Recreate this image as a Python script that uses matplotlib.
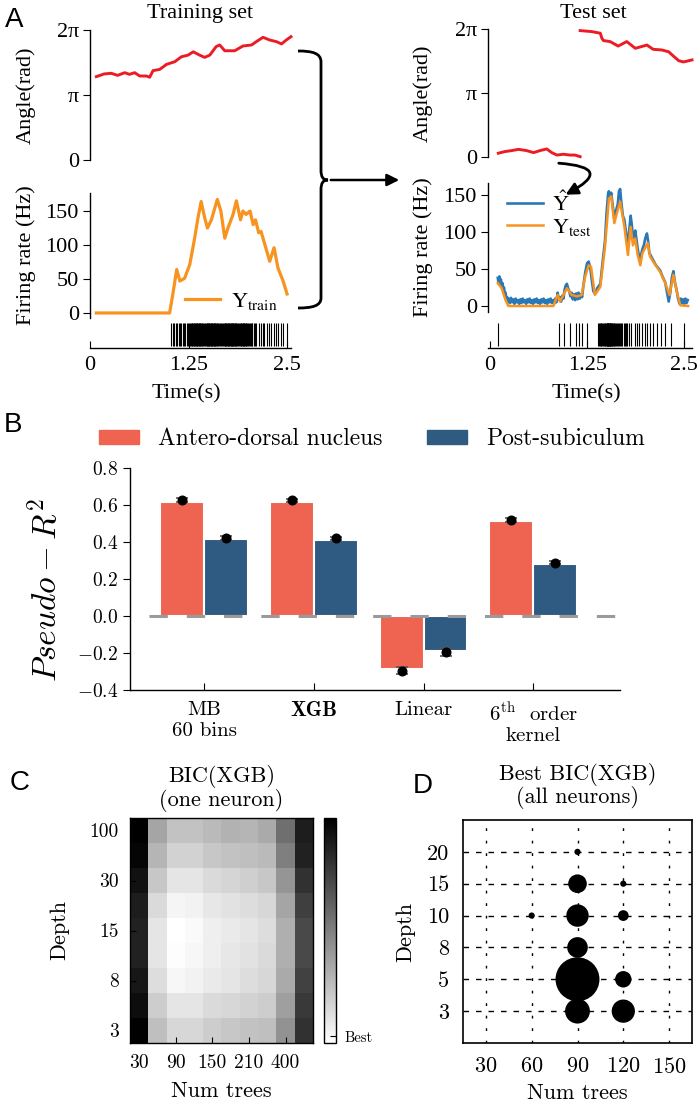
import matplotlib
matplotlib.use("Agg")
import matplotlib.pyplot as plt
import numpy as np
from matplotlib.patches import Patch, FancyArrowPatch, PathPatch
from matplotlib.path import Path
from matplotlib.font_manager import FontProperties

# ---------------- data ----------------
# A: training set
train_ang_t = [0.08, 0.18, 0.27, 0.35, 0.44, 0.50, 0.567, 0.63, 0.715, 0.757, 0.80, 0.885, 0.97,
               1.075, 1.16, 1.245, 1.31, 1.39, 1.455, 1.52, 1.60, 1.645, 1.71, 1.836, 1.94, 2.05,
               2.11, 2.195, 2.28, 2.365, 2.43, 2.49, 2.55]
train_ang = [4.03, 4.16, 4.19, 4.09, 4.22, 4.14, 4.22, 4.06, 4.06, 4.00, 4.32, 4.38, 4.62,
             4.75, 4.99, 5.07, 5.23, 5.07, 4.96, 5.07, 5.48, 5.56, 5.28, 5.28, 5.51, 5.56,
             5.72, 5.93, 5.80, 5.72, 5.61, 5.80, 5.96]
train_fr_t = [0.08, 1.01, 1.05, 1.10, 1.14, 1.20, 1.265, 1.32, 1.37, 1.41, 1.455, 1.49, 1.54,
              1.615, 1.66, 1.71, 1.75, 1.815, 1.857, 1.91, 1.94, 1.98, 2.03, 2.07, 2.10, 2.14,
              2.17, 2.22, 2.28, 2.335, 2.385, 2.45, 2.50]
train_fr = [0, 0, 27, 64, 47, 51, 71, 105, 140, 164, 140, 125, 137,
            167, 150, 110, 125, 145, 165, 137, 150, 145, 150, 130, 137, 118,
            120, 100, 76, 96, 66, 47, 28]
train_spikes = [1.03, 1.05, 1.07, 1.09, 1.11, 1.125, 1.14, 1.16, 1.175, 1.19, 1.21, 1.225, 1.24,
                1.255, 1.27, 1.285, 1.295, 1.30, 1.31, 1.318, 1.325, 1.333, 1.34, 1.348, 1.355,
                1.362, 1.37, 1.377, 1.385, 1.392, 1.40, 1.408, 1.415, 1.423, 1.43, 1.445, 1.46,
                1.47, 1.478, 1.485, 1.493, 1.50, 1.508, 1.515, 1.522, 1.53, 1.537, 1.545, 1.552,
                1.56, 1.567, 1.575, 1.582, 1.59, 1.597, 1.605, 1.612, 1.62, 1.635, 1.65, 1.665,
                1.68, 1.69, 1.70, 1.708, 1.715, 1.723, 1.73, 1.738, 1.745, 1.753, 1.76, 1.768,
                1.775, 1.783, 1.79, 1.798, 1.805, 1.813, 1.82, 1.828, 1.835, 1.843, 1.85, 1.858,
                1.865, 1.88, 1.895, 1.905, 1.913, 1.92, 1.928, 1.935, 1.943, 1.95, 1.958, 1.965,
                1.973, 1.98, 1.995, 2.01, 2.02, 2.03, 2.04, 2.05, 2.06, 2.075, 2.09, 2.11, 2.14,
                2.17, 2.195, 2.21, 2.24, 2.27, 2.30, 2.33, 2.36, 2.39, 2.42, 2.45, 2.50]

# A: test set
test_ang1_t = [0.107, 0.19, 0.28, 0.365, 0.47, 0.56, 0.644, 0.73, 0.795, 0.86, 0.945, 1.03, 1.095, 1.16]
test_ang1 = [0.20, 0.28, 0.33, 0.39, 0.33, 0.23, 0.33, 0.41, 0.23, 0.11, 0.15, 0.11, 0.11, 0.03]
test_ang2_t = [1.16, 1.31, 1.42, 1.44, 1.46, 1.546, 1.65, 1.76, 1.87, 2.02, 2.10, 2.21, 2.30,
               2.36, 2.43, 2.49, 2.60]
test_ang2 = [6.22, 6.17, 6.09, 5.84, 5.73, 5.68, 5.46, 5.68, 5.35, 5.51, 5.30, 5.27, 5.18,
             4.97, 4.74, 4.68, 4.78]
test_fr_t = [0.10, 0.15, 0.20, 0.236, 0.816, 0.87, 0.90, 0.99, 1.05, 1.12, 1.18, 1.225, 1.27,
             1.30, 1.35, 1.42, 1.48, 1.53, 1.56, 1.60, 1.645, 1.675, 1.73, 1.775, 1.81, 1.84,
             1.87, 1.90, 1.935, 1.96, 2.03, 2.06, 2.10, 2.19, 2.255, 2.31, 2.36, 2.405, 2.45, 2.55]
test_fr = [31, 24, 8, 0, 0, 15, 6, 24, 15, 13, 15, 40, 55,
           53, 15, 26, 80, 145, 148, 112, 130, 141, 107, 69, 107, 82,
           91, 69, 55, 71, 85, 67, 60, 46, 31, 15, 42, 19, 1, 0]
pred_t = [0.10, 0.11, 0.12, 0.13, 0.14, 0.15, 0.16, 0.17, 0.18, 0.19, 0.20, 0.21, 0.22, 0.23,
          0.24, 0.255, 0.27, 0.285, 0.30, 0.315, 0.33, 0.345, 0.36, 0.375, 0.39, 0.405, 0.42,
          0.435, 0.45, 0.465, 0.48, 0.495, 0.51, 0.525, 0.54, 0.555, 0.57, 0.585, 0.60, 0.615,
          0.63, 0.645, 0.66, 0.675, 0.69, 0.705, 0.72, 0.735, 0.75, 0.765, 0.78, 0.795, 0.81,
          0.825, 0.84, 0.855, 0.87, 0.885, 0.90, 0.915, 0.93, 0.945, 0.96, 0.975, 0.99, 1.005,
          1.02, 1.035, 1.05, 1.065, 1.08, 1.095, 1.11, 1.125, 1.14, 1.155, 1.17, 1.185, 1.20,
          1.225, 1.25, 1.27, 1.29, 1.31, 1.33, 1.35, 1.38, 1.42, 1.45, 1.48, 1.50, 1.52, 1.53,
          1.545, 1.56, 1.58, 1.60, 1.62, 1.645, 1.66, 1.675, 1.69, 1.71, 1.73, 1.75, 1.775,
          1.79, 1.81, 1.825, 1.84, 1.855, 1.87, 1.885, 1.90, 1.92, 1.935, 1.95, 1.965, 1.98,
          2.00, 2.02, 2.035, 2.05, 2.07, 2.10, 2.13, 2.16, 2.19, 2.22, 2.255, 2.28, 2.30, 2.32,
          2.34, 2.36, 2.38, 2.405, 2.42, 2.44, 2.455, 2.47, 2.485, 2.50, 2.515, 2.53, 2.545]
pred_hz = [38, 30, 40, 32, 36, 27, 31, 22, 25, 15, 18, 9, 12, 5,
           10, 4, 11, 5, 9, 3, 10, 5, 8, 3, 9, 4, 10,
           5, 8, 3, 9, 5, 10, 4, 8, 3, 9, 5, 10, 4,
           8, 3, 9, 5, 10, 4, 8, 3, 9, 5, 10, 4, 8,
           3, 10, 5, 18, 9, 12, 6, 14, 10, 22, 28, 30, 24,
           20, 13, 18, 9, 16, 8, 17, 9, 18, 10, 16, 12, 26,
           45, 58, 60, 52, 35, 20, 17, 24, 30, 60, 88, 125, 152, 155,
           146, 153, 135, 118, 128, 138, 155, 158, 140, 122, 116, 100, 80,
           100, 122, 110, 92, 96, 102, 90, 78, 66, 62, 72, 78, 82,
           92, 98, 88, 72, 68, 62, 56, 52, 48, 40, 32, 18, 6, 18,
           38, 47, 32, 20, 10, 3, 10, 4, 9, 3, 10, 4, 8]
test_spikes = [0.10, 0.893, 0.958, 1.03, 1.108, 1.15, 1.19, 1.245, 1.395, 1.405, 1.415, 1.425,
               1.435, 1.445, 1.455, 1.465, 1.475, 1.485, 1.495, 1.50, 1.505, 1.51, 1.515, 1.52,
               1.525, 1.53, 1.535, 1.54, 1.545, 1.55, 1.555, 1.56, 1.565, 1.57, 1.58, 1.59, 1.60,
               1.61, 1.62, 1.63, 1.645, 1.66, 1.675, 1.69, 1.705, 1.72, 1.735, 1.75, 1.765, 1.79,
               1.82, 1.86, 1.89, 1.92, 1.955, 1.99, 2.02, 2.06, 2.10, 2.15, 2.20, 2.255, 2.33, 2.50]

# B: pseudo-R2 per model
models = ["MB\n60 bins", "XGB", "Linear", "$6^{\\mathrm{th}}$  order\nkernel"]
ad_bar = [0.617, 0.617, -0.288, 0.512]
ps_bar = [0.415, 0.41, -0.187, 0.282]
ad_mean = [0.627, 0.625, -0.296, 0.52]
ps_mean = [0.421, 0.419, -0.195, 0.288]
ad_err = [0.009, 0.008, 0.02, 0.01]
ps_err = [0.009, 0.008, 0.02, 0.008]

# C: BIC heatmap (darkness, 0 = best), rows depth 100 -> 3, columns num trees
bic = [
    [0.97, 0.35, 0.24, 0.24, 0.27, 0.30, 0.29, 0.33, 0.55, 0.86],
    [0.95, 0.29, 0.18, 0.18, 0.22, 0.24, 0.25, 0.27, 0.49, 0.84],
    [0.90, 0.22, 0.11, 0.11, 0.15, 0.17, 0.19, 0.22, 0.41, 0.78],
    [0.86, 0.15, 0.05, 0.06, 0.10, 0.12, 0.14, 0.16, 0.35, 0.73],
    [0.84, 0.11, 0.01, 0.03, 0.07, 0.09, 0.11, 0.14, 0.31, 0.69],
    [0.84, 0.11, 0.02, 0.04, 0.07, 0.10, 0.12, 0.15, 0.31, 0.69],
    [0.88, 0.14, 0.04, 0.06, 0.09, 0.11, 0.14, 0.16, 0.33, 0.72],
    [0.92, 0.20, 0.11, 0.11, 0.15, 0.16, 0.18, 0.20, 0.37, 0.75],
    [0.96, 0.25, 0.16, 0.16, 0.20, 0.22, 0.24, 0.25, 0.42, 0.78],
]
c_xticklabels = ["30", "90", "150", "210", "400"]
c_yticklabels = ["100", "30", "15", "8", "3"]

# D: best BIC over all neurons
d_depth_levels = [3, 5, 8, 10, 15, 20]
d_tree_ticks = [30, 60, 90, 120, 150]
d_trees = [90, 90, 120, 60, 90, 120, 90, 90, 120, 90, 120]
d_depth = [20, 15, 15, 10, 10, 10, 8, 5, 5, 3, 3]
d_count = [1, 9, 1, 1, 13, 3, 11, 50, 7, 16, 14]

# ---------------- style ----------------
plt.rcParams["font.family"] = "cmr10"
plt.rcParams["mathtext.fontset"] = "cm"
plt.rcParams["axes.formatter.use_mathtext"] = True
plt.rcParams["axes.linewidth"] = 1.0

TIMES = "Liberation Serif"
SANS = "Liberation Sans"
RED = "#ec1c24"
ORANGE = "#f7931e"
BLUE = "#2a78b5"
RED_B = "#ee6450"
BLUE_B = "#2f5a82"

W, H = 700, 1102
fig = plt.figure(figsize=(7, 11.02), dpi=100)


def box(x0, y0, x1, y1):
    # pixel box (origin top-left) -> figure rect
    return [x0 / W, 1 - y1 / H, (x1 - x0) / W, (y1 - y0) / H]


def only_left(ax):
    for s in ["top", "right", "bottom"]:
        ax.spines[s].set_visible(False)
    ax.set_xticks([])
    ax.patch.set_alpha(0)


tfont = dict(fontfamily=TIMES, fontsize=16)
leg_prop = FontProperties(family=TIMES, size=16, math_fontfamily="stix")

# ---------------- panel A ----------------
for side in ["train", "test"]:
    if side == "train":
        x0, x1, xlim = 90, 291, (0, 2.55)
        ang_box, fr_box, ras_box = (30, 160), (193, 318), (322, 348)
    else:
        x0, x1, xlim = 488, 692, (-0.026, 2.6)
        ang_box, fr_box, ras_box = (29.3, 157.3), (183, 312), (322, 348)

    # angle
    ax = fig.add_axes(box(x0, ang_box[0], x1, ang_box[1]))
    if side == "train":
        ax.plot(train_ang_t, train_ang, color=RED, lw=2.1, clip_on=False)
    else:
        ax.plot(test_ang1_t, test_ang1, color=RED, lw=2.1, clip_on=False)
        ax.plot(test_ang2_t, test_ang2, color=RED, lw=2.1, clip_on=False)
    ax.set_xlim(*xlim)
    ax.set_ylim(0, 2 * np.pi)
    only_left(ax)
    ax.set_yticks([0, np.pi, 2 * np.pi], ["0", "π", "2π"], **tfont)
    ax.tick_params(axis="y", direction="out", length=5, pad=3)
    ax.set_ylabel("Angle(rad)", **tfont)
    ax.yaxis.set_label_coords(-0.27, 0.5)

    # firing rate
    ax = fig.add_axes(box(x0, fr_box[0], x1, fr_box[1]))
    if side == "train":
        ax.plot(train_fr_t, train_fr, color=ORANGE, lw=2.3, label="$\\mathrm{Y_{train}}$")
        ax.set_ylim(-7.4, 176.5)
        ax.legend(loc="lower right", bbox_to_anchor=(0.98, -0.02), frameon=False, prop=leg_prop,
                  handlelength=1.6, handletextpad=0.5, borderaxespad=0)
    else:
        ax.plot(pred_t, pred_hz, color=BLUE, lw=1.9, label="$\\hat{\\mathrm{Y}}$")
        ax.plot(test_fr_t, test_fr, color=ORANGE, lw=1.8, label="$\\mathrm{Y_{test}}$")
        ax.set_ylim(-8.1, 166.2)
        ax.legend(loc="upper left", bbox_to_anchor=(0.05, 1.0), frameon=False, prop=leg_prop,
                  handlelength=1.6, handletextpad=0.4, borderaxespad=0, labelspacing=0.05)
    ax.set_xlim(*xlim)
    only_left(ax)
    ax.set_yticks([0, 50, 100, 150], ["0", "50", "100", "150"], **tfont)
    ax.tick_params(axis="y", direction="out", length=5, pad=3)
    ax.set_ylabel("Firing rate (Hz)", **tfont)
    ax.yaxis.set_label_coords(-0.27, 0.5)

    # raster + time axis
    ax = fig.add_axes(box(x0, ras_box[0], x1, ras_box[1]))
    spikes = train_spikes if side == "train" else test_spikes
    ax.vlines(spikes, 0.08, 0.95, color="black", lw=0.8)
    ax.set_xlim(*xlim)
    ax.set_ylim(0, 1)
    for s in ["top", "right", "left"]:
        ax.spines[s].set_visible(False)
    ax.set_yticks([])
    ax.patch.set_alpha(0)
    ax.set_xticks([0, 1.25, 2.5], ["0", "1.25", "2.5"], **tfont)
    ax.tick_params(axis="x", direction="in", length=5, pad=6)
    ax.set_xlabel("Time(s)", **tfont)
    ax.xaxis.set_label_coords(0.48, -1.4)

fig.text(200 / W, 1 - 18 / H, "Training set", ha="center", va="baseline", **tfont)
fig.text(593 / W, 1 - 18 / H, "Test set", ha="center", va="baseline", **tfont)

# ---------------- panel B ----------------
axb = fig.add_axes(box(130, 468, 620, 690))
x = np.arange(len(models))
axb.bar(x - 0.2, ad_bar, 0.4, color=RED_B, edgecolor="white", lw=1.5, zorder=2)
axb.bar(x + 0.2, ps_bar, 0.4, color=BLUE_B, edgecolor="white", lw=1.5, zorder=2)
axb.plot([-0.5, 3.8], [0, 0], color="#9a9a9a", lw=2.2, dashes=(6, 6.2), zorder=3)
axb.errorbar(x - 0.2, ad_mean, yerr=ad_err, fmt="o", color="black", ms=6.2, ecolor="#555555",
             elinewidth=1.2, capsize=4.5, capthick=1.2, zorder=4)
axb.errorbar(x + 0.2, ps_mean, yerr=ps_err, fmt="o", color="black", ms=6.2, ecolor="#555555",
             elinewidth=1.2, capsize=4.5, capthick=1.2, zorder=4)
axb.set_xlim(-0.675, 3.79)
axb.set_ylim(-0.4, 0.8)
axb.spines["top"].set_visible(False)
axb.spines["right"].set_visible(False)
axb.set_yticks([-0.4, -0.2, 0.0, 0.2, 0.4, 0.6, 0.8])
axb.set_xticks(x, models, fontsize=15)
axb.get_xticklabels()[1].set_fontfamily("cmb10")
axb.tick_params(axis="y", direction="out", length=5, labelsize=14)
axb.tick_params(axis="x", direction="in", length=5, pad=8)
axb.set_ylabel("$Pseudo-R^2$", fontsize=24)
axb.yaxis.set_label_coords(-0.135, 0.45)
axb.legend([Patch(color=RED_B), Patch(color=BLUE_B)],
           ["Antero-dorsal nucleus", "Post-subiculum"], ncol=2, frameon=False, fontsize=17,
           loc="center", bbox_to_anchor=(0.494, 1.13), handlelength=1.7, handleheight=0.55,
           handletextpad=0.8, columnspacing=1.9)

# ---------------- panel C ----------------
axc = fig.add_axes(box(130, 818, 313, 1043))
im = axc.imshow(bic, cmap="gray_r", aspect="auto", interpolation="nearest")
axc.set_xticks(range(0, 10, 2), c_xticklabels)
axc.set_yticks(range(0, 9, 2), c_yticklabels)
axc.tick_params(direction="in", length=4, labelsize=14, pad=8)
axc.set_xlabel("Num trees", fontsize=16)
axc.xaxis.set_label_coords(0.5, -0.17)
axc.set_ylabel("Depth", fontsize=16)
axc.yaxis.set_label_coords(-0.33, 0.5)
axc.set_title("BIC(XGB)\n(one neuron)", fontsize=16, pad=9, linespacing=1.0)

cax = fig.add_axes(box(324, 818, 336, 1043))
cb = fig.colorbar(im, cax=cax)
vals = np.array(bic)
cb.set_ticks([vals.min() + 0.03 * (vals.max() - vals.min())])
cb.set_ticklabels(["Best"])
cb.ax.tick_params(direction="in", length=4, labelsize=10.5, pad=6)
cb.outline.set_linewidth(1.0)

# ---------------- panel D ----------------
axd = fig.add_axes(box(463, 820, 692, 1043))
yd = [d_depth_levels.index(d) for d in d_depth]
axd.scatter(d_trees, yd, s=np.array(d_count) * 20, color="black", zorder=3, linewidths=0)
axd.set_xlim(15, 165)
axd.set_ylim(-1, 6)
axd.set_xticks(d_tree_ticks)
axd.set_yticks(range(len(d_depth_levels)), [str(d) for d in d_depth_levels])
axd.set_axisbelow(True)
axd.xaxis.grid(True, color="black", lw=1.0, ls=(0, (2, 7)))
axd.yaxis.grid(True, color="black", lw=1.0, ls=(0, (4, 5)))
axd.tick_params(length=0, labelsize=16, pad=10)
for s in axd.spines.values():
    s.set_linewidth(1.2)
axd.set_xlabel("Num trees", fontsize=16)
axd.xaxis.set_label_coords(0.5, -0.18)
axd.set_ylabel("Depth", fontsize=16)
axd.yaxis.set_label_coords(-0.21, 0.5)
axd.set_title("Best BIC(XGB)\n(all neurons)", fontsize=16, pad=12, linespacing=1.0)

# ---------------- overlay: brace, arrows, panel letters ----------------
ov = fig.add_axes([0, 0, 1, 1], zorder=10)
ov.set_xlim(0, W)
ov.set_ylim(H, 0)
ov.axis("off")
brace = Path([(298, 51), (312, 51), (321, 53), (321, 62), (321, 170),
              (321, 177), (323, 180), (328, 180),
              (323, 180), (321, 183), (321, 190), (321, 298),
              (321, 306), (312, 308), (298, 308)],
             [Path.MOVETO, Path.CURVE4, Path.CURVE4, Path.CURVE4, Path.LINETO,
              Path.CURVE4, Path.CURVE4, Path.CURVE4,
              Path.CURVE4, Path.CURVE4, Path.CURVE4, Path.LINETO,
              Path.CURVE4, Path.CURVE4, Path.CURVE4])
ov.add_patch(PathPatch(brace, fill=False, lw=2.0, color="black"))
ov.add_patch(FancyArrowPatch((328, 180), (402, 180), arrowstyle="-|>", mutation_scale=18,
                             lw=1.8, color="black"))
ov.add_patch(FancyArrowPatch((556, 163), (563, 196), connectionstyle="arc3,rad=-1.8",
                             arrowstyle="-|>", mutation_scale=18, lw=2.0, color="black"))

for lab, px, py in [("A", 5, 27), ("B", 4, 432), ("C", 10, 790), ("D", 413, 793)]:
    fig.text(px / W, 1 - py / H, lab, fontfamily=SANS, fontsize=20, va="baseline")

fig.savefig("out.png", dpi=100)
